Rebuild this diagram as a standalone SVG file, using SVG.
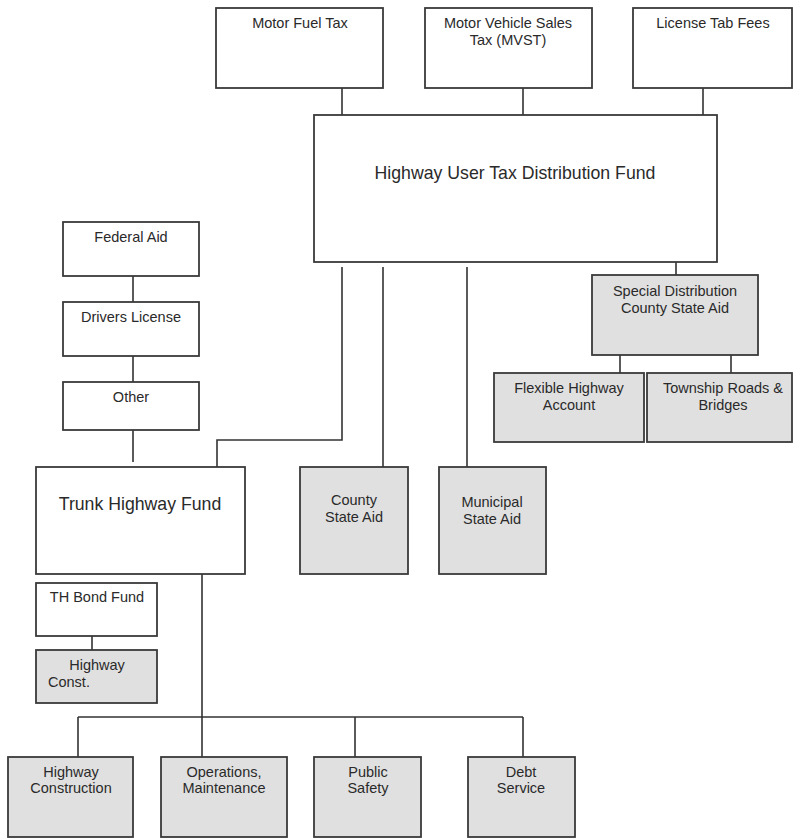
<svg xmlns="http://www.w3.org/2000/svg" width="793" height="838" viewBox="0 0 793 838">
<style>
.b{fill:#ffffff;stroke:#3a3a3a;stroke-width:1.8}
.g{fill:#e0e0e0;stroke:#3a3a3a;stroke-width:1.8}
.t{font-family:"Liberation Sans",Arial,sans-serif;font-size:14.5px;fill:#2a2a2a;text-anchor:middle}
.L{font-size:17.7px}
.c{fill:none;stroke:#333333;stroke-width:1.6}
</style>
<rect width="793" height="838" fill="#ffffff"/>
<g id="connectors">
<path class="c" d="M342 88V115M523 88V115M703 88V115"/>
<path class="c" d="M342 267V440H217V467"/>
<path class="c" d="M383 267V467"/>
<path class="c" d="M467 267V467"/>
<path class="c" d="M676 262V275"/>
<path class="c" d="M620 355V373M731 355V373"/>
<path class="c" d="M133 276V302M133 356V382M133 430V462"/>
<path class="c" d="M92 636V650"/>
<path class="c" d="M202 574V717M78 717H523M78 717V757M202 717V757M355 717V757M523 717V757"/>
</g>
<g id="motor-fuel-tax"><rect class="b" x="216" y="8" width="167" height="80"/><text class="t" x="300" y="28">Motor Fuel Tax</text></g>
<g id="mvst"><rect class="b" x="425" y="8" width="167" height="80"/><text class="t" x="508" y="28">Motor Vehicle Sales</text><text class="t" x="508" y="45">Tax (MVST)</text></g>
<g id="license-tab-fees"><rect class="b" x="633" y="8" width="159" height="80"/><text class="t" x="713" y="28">License Tab Fees</text></g>
<g id="hutdf"><rect class="b" x="314" y="115" width="403" height="147"/><text class="t L" x="515" y="179">Highway User Tax Distribution Fund</text></g>
<g id="special-distribution"><rect class="g" x="592" y="275" width="166" height="80"/><text class="t" x="675" y="296">Special Distribution</text><text class="t" x="675" y="313">County State Aid</text></g>
<g id="flexible-highway"><rect class="g" x="494" y="373" width="150" height="69"/><text class="t" x="569" y="393">Flexible Highway</text><text class="t" x="569" y="410">Account</text></g>
<g id="township-roads"><rect class="g" x="647" y="373" width="145" height="69"/><text class="t" x="723" y="393">Township Roads &amp;</text><text class="t" x="723" y="410">Bridges</text></g>
<g id="federal-aid"><rect class="b" x="63" y="222" width="136" height="54"/><text class="t" x="131" y="242">Federal Aid</text></g>
<g id="drivers-license"><rect class="b" x="63" y="302" width="136" height="54"/><text class="t" x="131" y="322">Drivers License</text></g>
<g id="other"><rect class="b" x="63" y="382" width="136" height="48"/><text class="t" x="131" y="402">Other</text></g>
<g id="trunk-highway-fund"><rect class="b" x="36" y="467" width="209" height="107"/><text class="t L" x="140" y="510">Trunk Highway Fund</text></g>
<g id="county-state-aid"><rect class="g" x="300" y="467" width="108" height="107"/><text class="t" x="354" y="505">County</text><text class="t" x="354" y="522">State Aid</text></g>
<g id="municipal-state-aid"><rect class="g" x="439" y="467" width="107" height="107"/><text class="t" x="492" y="507">Municipal</text><text class="t" x="492" y="524">State Aid</text></g>
<g id="th-bond-fund"><rect class="b" x="36" y="583" width="121" height="53"/><text class="t" x="97" y="602">TH Bond Fund</text></g>
<g id="highway-const"><rect class="g" x="36" y="650" width="121" height="53"/><text class="t" x="97" y="670">Highway</text><text class="t" x="48" y="687" style="text-anchor:start">Const.</text></g>
<g id="highway-construction"><rect class="g" x="8" y="757" width="125" height="80"/><text class="t" x="71" y="777">Highway</text><text class="t" x="71" y="793">Construction</text></g>
<g id="operations-maintenance"><rect class="g" x="161" y="757" width="126" height="80"/><text class="t" x="224" y="777">Operations,</text><text class="t" x="224" y="793">Maintenance</text></g>
<g id="public-safety"><rect class="g" x="314" y="757" width="107" height="80"/><text class="t" x="368" y="777">Public</text><text class="t" x="368" y="793">Safety</text></g>
<g id="debt-service"><rect class="g" x="468" y="757" width="107" height="80"/><text class="t" x="521" y="777">Debt</text><text class="t" x="521" y="793">Service</text></g>
</svg>
